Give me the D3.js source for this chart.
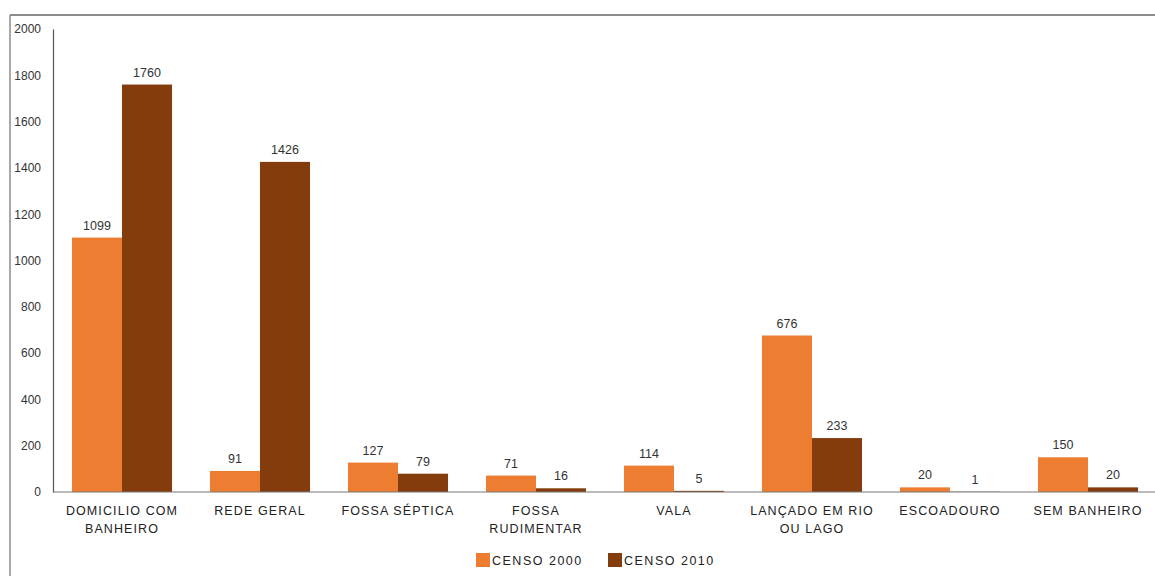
<!DOCTYPE html>
<html>
<head>
<meta charset="utf-8">
<script src="https://cdn.jsdelivr.net/npm/d3@7"></script>
<style>
  html, body { margin: 0; padding: 0; background: #fff; }
  svg { display: block; font-family: Arial, "Liberation Sans", sans-serif; }
</style>
</head>
<body>
<svg id="chart" width="1155" height="576"></svg>
<script>
// Tipos de esgotamento sanitário – domicílios, Censos 2000 e 2010
const categories = [
  ["DOMICILIO COM", "BANHEIRO"],
  ["REDE GERAL"],
  ["FOSSA SÉPTICA"],
  ["FOSSA", "RUDIMENTAR"],
  ["VALA"],
  ["LANÇADO EM RIO", "OU LAGO"],
  ["ESCOADOURO"],
  ["SEM BANHEIRO"]
];
const seriesNames = ["CENSO 2000", "CENSO 2010"];
const censo2000 = [1099, 91, 127, 71, 114, 676, 20, 150];
const censo2010 = [1760, 1426, 79, 16, 5, 233, 1, 20];
const yTicks = [0, 200, 400, 600, 800, 1000, 1200, 1400, 1600, 1800, 2000];
const colors = ["#ED7D31", "#843C0C"];

const svg = d3.select("#chart");

// outer frame (top and left edges)
svg.append("line").attr("x1", 10).attr("x2", 1155).attr("y1", 15).attr("y2", 15)
  .attr("stroke", "#8c8c8c").attr("stroke-width", 2);
svg.append("line").attr("x1", 10).attr("x2", 10).attr("y1", 15).attr("y2", 576)
  .attr("stroke", "#8c8c8c").attr("stroke-width", 1.5);

const plot = { left: 53, right: 1157, top: 29, bottom: 492 };

const keys = categories.map(c => c.join(" "));
const x0 = d3.scaleBand().domain(keys).range([plot.left, plot.right])
  .paddingInner(0.275).paddingOuter(0.1375);
const x1 = d3.scaleBand().domain(seriesNames).range([0, x0.bandwidth()]);
const y = d3.scaleLinear().domain([0, 2000]).range([plot.bottom, plot.top]);

// y axis
const yAxis = d3.axisLeft(y).tickValues(yTicks).tickFormat(d3.format("d"))
  .tickSize(0).tickPadding(12);
const gy = svg.append("g").attr("transform", `translate(${plot.left},0)`).call(yAxis);
gy.select(".domain").attr("stroke", "#555").attr("stroke-width", 1.2);
gy.selectAll("text").attr("font-size", 12).attr("fill", "#333")
  .attr("font-family", "Arial, 'Liberation Sans', sans-serif");

// bars
const rows = keys.map((k, i) => ({ key: k, values: [censo2000[i], censo2010[i]] }));
const groups = svg.append("g").selectAll("g").data(rows).join("g")
  .attr("transform", d => `translate(${x0(d.key)},0)`);

groups.selectAll("rect").data(d => d.values.map((v, j) => ({ s: seriesNames[j], v, j })))
  .join("rect")
  .attr("x", d => x1(d.s))
  .attr("width", x1.bandwidth())
  .attr("y", d => y(d.v))
  .attr("height", d => y(0) - y(d.v))
  .attr("fill", d => colors[d.j]);

groups.selectAll("text.val").data(d => d.values.map((v, j) => ({ s: seriesNames[j], v })))
  .join("text").attr("class", "val")
  .attr("x", d => x1(d.s) + x1.bandwidth() / 2)
  .attr("y", d => y(d.v) - 8)
  .attr("text-anchor", "middle")
  .attr("font-size", 12.5).attr("fill", "#333")
  .text(d => d.v);

// baseline
svg.append("line").attr("x1", plot.left).attr("x2", 1155)
  .attr("y1", y(0)).attr("y2", y(0)).attr("stroke", "#777").attr("stroke-width", 1.2);

// category labels
const xl = svg.append("g");
categories.forEach((lines, i) => {
  const cx = x0(keys[i]) + x0.bandwidth() / 2;
  const t = xl.append("text")
    .attr("x", cx)
    .attr("y", 515)
    .attr("text-anchor", "middle")
    .attr("font-size", 12.5).attr("letter-spacing", 1.1).attr("fill", "#222");
  lines.forEach((ln, k) => {
    t.append("tspan").attr("x", cx).attr("dy", k === 0 ? 0 : 18).text(ln);
  });
});

// legend
const legend = svg.append("g").attr("transform", "translate(476,553)");
const legX = [0, 132];
seriesNames.forEach((name, i) => {
  const g = legend.append("g").attr("transform", `translate(${legX[i]},0)`);
  g.append("rect").attr("width", 14).attr("height", 14).attr("fill", colors[i]);
  g.append("text").attr("x", 16).attr("y", 12).attr("font-size", 12.5)
    .attr("letter-spacing", 1.5).attr("fill", "#222").text(name);
});
</script>
</body>
</html>
